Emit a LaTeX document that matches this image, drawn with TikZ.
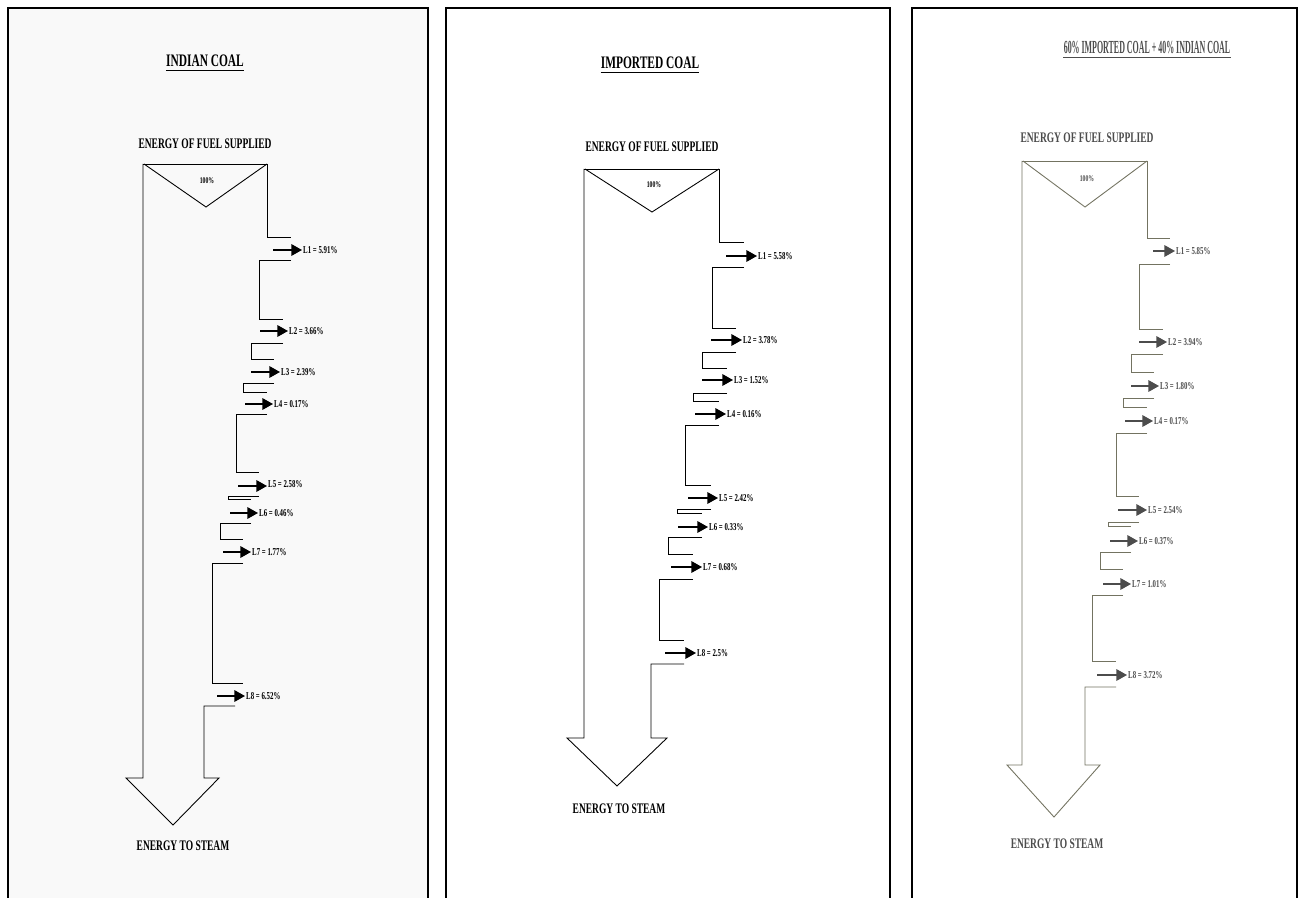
\documentclass[tikz,border=0pt]{standalone}
\usepackage{fontspec}
\setmainfont{Liberation Serif}
\newfontfamily\scanfont[FakeStretch=0.65]{Liberation Serif}
\newfontfamily\scannarrow[FakeStretch=0.43]{Liberation Serif}
\usetikzlibrary{calc, arrows.meta}
\definecolor{paper}{gray}{0.975}
\definecolor{fadeink}{gray}{0.30}
\definecolor{fadeline}{rgb}{0.45,0.45,0.38}

\begin{document}
\begin{tikzpicture}[x=0.02cm, y=-0.02cm,
    frame/.style={line width=1.4pt, line join=miter},
    outline/.style={line width=0.5pt, line join=miter},
    title/.style={font=\scanfont\bfseries\fontsize{10}{12}\selectfont, inner sep=0pt},
    caption/.style={font=\scanfont\bfseries\fontsize{8.3}{10}\selectfont, inner sep=0pt},
    pct/.style={font=\scanfont\bfseries\fontsize{5}{6}\selectfont, inner sep=0pt},
    loss/.style={font=\scanfont\bfseries\fontsize{6}{7}\selectfont, anchor=west, inner sep=0.5pt},
    lossarrow/.style={line width=0.9pt, -{Triangle[length=6pt, width=6.5pt]}}]

    \useasboundingbox (0, 0) rectangle (1304, 898);
    \fill[white] (0, 0) rectangle (1304, 898);
    \fill[paper] (8, 8) rectangle (428, 898);

    \draw[frame] (8, 898) -- (8, 8) -- (428, 8) -- (428, 898);
    \draw[frame] (446, 898) -- (446, 8) -- (890, 8) -- (890, 898);
    \draw[frame] (912, 898) -- (912, 8) -- (1297, 8) -- (1297, 898);

    % indian coal
    \node[title] (t1) at (205, 61) {INDIAN COAL};
    \draw[line width=0.8pt] ($(t1.south west) + (0, 3.5)$) -- ($(t1.south east) + (0, 3.5)$);
    \node[caption] (in1) at (205, 144) {ENERGY OF FUEL SUPPLIED};

    \draw[outline] (143, 164) -- (267, 164) -- (267, 237) -- (291, 237);
    \draw[outline] (144, 164) -- (206, 207) -- (267, 164);
    \node[pct] (pct1) at (207, 181) {100\%};
    \draw[outline] (291, 260) -- (259, 260) -- (259, 319) -- (283, 319);
    \draw[outline] (283, 343) -- (251, 343) -- (251, 359) -- (274, 359);
    \draw[outline] (274, 383) -- (243, 383) -- (243, 392) -- (267, 392);
    \draw[outline] (267, 414) -- (236, 414) -- (236, 472) -- (259, 472);
    \draw[outline] (259, 496) -- (228, 496) -- (228, 499) -- (251, 499);
    \draw[outline] (251, 523) -- (220, 523) -- (220, 539) -- (243, 539);
    \draw[outline] (243, 563) -- (212, 563) -- (212, 683) -- (243, 683);
    \draw[outline] (235, 706) -- (204, 706) -- (204, 778) -- (219, 778) -- (173, 825)
        -- (126, 778) -- (143, 778) -- (143, 164);
    \node[caption] (out1) at (183, 846) {ENERGY TO STEAM};

    \coordinate (a1s) at (273, 250);
    \node[loss] (a1) at (302, 250) {L1 = 5.91\%};
    \draw[lossarrow] (a1s) -- (a1.west);
    \coordinate (a2s) at (260, 331);
    \node[loss] (a2) at (288, 331) {L2 = 3.66\%};
    \draw[lossarrow] (a2s) -- (a2.west);
    \coordinate (a3s) at (251, 372);
    \node[loss] (a3) at (280, 372) {L3 = 2.39\%};
    \draw[lossarrow] (a3s) -- (a3.west);
    \coordinate (a4s) at (245, 404);
    \node[loss] (a4) at (273, 404) {L4 = 0.17\%};
    \draw[lossarrow] (a4s) -- (a4.west);
    \coordinate (a5s) at (238, 486);
    \node[loss] (a5) at (267, 484) {L5 = 2.58\%};
    \draw[lossarrow] (a5s) -- (a5.west |- a5s);
    \coordinate (a6s) at (230, 513);
    \node[loss] (a6) at (258, 513) {L6 = 0.46\%};
    \draw[lossarrow] (a6s) -- (a6.west);
    \coordinate (a7s) at (223, 552);
    \node[loss] (a7) at (251, 552) {L7 = 1.77\%};
    \draw[lossarrow] (a7s) -- (a7.west);
    \coordinate (a8s) at (217, 696);
    \node[loss] (a8) at (245, 696) {L8 = 6.52\%};
    \draw[lossarrow] (a8s) -- (a8.west);

    % imported coal
    \node[title] (t2) at (650, 63) {IMPORTED COAL};
    \draw[line width=0.8pt] ($(t2.south west) + (0, 3.5)$) -- ($(t2.south east) + (0, 3.5)$);
    \node[caption] (in2) at (652, 147) {ENERGY OF FUEL SUPPLIED};

    \draw[outline] (584, 169) -- (719, 169) -- (719, 242) -- (744, 242);
    \draw[outline] (585, 169) -- (652, 212) -- (719, 169);
    \node[pct] (pct2) at (654, 185) {100\%};
    \draw[outline] (744, 267) -- (712, 267) -- (712, 328) -- (736, 328);
    \draw[outline] (736, 352) -- (702, 352) -- (702, 368) -- (727, 368);
    \draw[outline] (727, 393) -- (693, 393) -- (693, 401) -- (719, 401);
    \draw[outline] (719, 425) -- (685, 425) -- (685, 485) -- (711, 485);
    \draw[outline] (711, 509) -- (677, 509) -- (677, 513) -- (702, 513);
    \draw[outline] (702, 537) -- (668, 537) -- (668, 554) -- (693, 554);
    \draw[outline] (693, 579) -- (659, 579) -- (659, 640) -- (684, 640);
    \draw[outline] (684, 664) -- (651, 664) -- (651, 738) -- (667, 738) -- (617, 786)
        -- (567, 738) -- (584, 738) -- (584, 169);
    \node[caption] (out2) at (619, 809) {ENERGY TO STEAM};

    \coordinate (b1s) at (726, 256);
    \node[loss] (b1) at (757, 256) {L1 = 5.58\%};
    \draw[lossarrow] (b1s) -- (b1.west);
    \coordinate (b2s) at (711, 340);
    \node[loss] (b2) at (742, 340) {L2 = 3.78\%};
    \draw[lossarrow] (b2s) -- (b2.west);
    \coordinate (b3s) at (702, 380);
    \node[loss] (b3) at (733, 380) {L3 = 1.52\%};
    \draw[lossarrow] (b3s) -- (b3.west);
    \coordinate (b4s) at (695, 414);
    \node[loss] (b4) at (726, 414) {L4 = 0.16\%};
    \draw[lossarrow] (b4s) -- (b4.west);
    \coordinate (b5s) at (688, 498);
    \node[loss] (b5) at (718, 498) {L5 = 2.42\%};
    \draw[lossarrow] (b5s) -- (b5.west);
    \coordinate (b6s) at (678, 527);
    \node[loss] (b6) at (708, 527) {L6 = 0.33\%};
    \draw[lossarrow] (b6s) -- (b6.west);
    \coordinate (b7s) at (671, 567);
    \node[loss] (b7) at (702, 567) {L7 = 0.68\%};
    \draw[lossarrow] (b7s) -- (b7.west);
    \coordinate (b8s) at (665, 653);
    \node[loss] (b8) at (696, 653) {L8 = 2.5\%};
    \draw[lossarrow] (b8s) -- (b8.west);

    % blend
    \begin{scope}[fadeline]
    \node[title, fadeink, font=\scannarrow\bfseries\fontsize{10.5}{12}\selectfont] (t3) at (1147, 47)
        {60\% IMPORTED COAL + 40\% INDIAN COAL};
    \draw[fadeink, line width=0.8pt] ($(t3.south west) + (0, 4)$) -- ($(t3.south east) + (0, 4)$);
    \node[caption, fadeink] (in3) at (1087, 138) {ENERGY OF FUEL SUPPLIED};

    \draw[outline] (1022, 161) -- (1147, 161) -- (1147, 238) -- (1170, 238);
    \draw[outline] (1023, 161) -- (1085, 207) -- (1147, 161);
    \node[pct, fadeink] (pct3) at (1087, 179) {100\%};
    \draw[outline] (1170, 264) -- (1139, 264) -- (1139, 329) -- (1163, 329);
    \draw[outline] (1163, 354) -- (1131, 354) -- (1131, 372) -- (1154, 372);
    \draw[outline] (1154, 398) -- (1123, 398) -- (1123, 407) -- (1147, 407);
    \draw[outline] (1147, 433) -- (1116, 433) -- (1116, 496) -- (1139, 496);
    \draw[outline] (1139, 522) -- (1108, 522) -- (1108, 526) -- (1131, 526);
    \draw[outline] (1131, 552) -- (1100, 552) -- (1100, 569) -- (1123, 569);
    \draw[outline] (1123, 595) -- (1092, 595) -- (1092, 661) -- (1116, 661);
    \draw[outline] (1116, 687) -- (1085, 687) -- (1085, 765) -- (1100, 765) -- (1054, 817)
        -- (1007, 765) -- (1022, 765) -- (1022, 161);
    \node[caption, fadeink] (out3) at (1057, 844) {ENERGY TO STEAM};

    \coordinate (c1s) at (1153, 251);
    \node[loss, fadeink] (c1) at (1175, 251) {L1 = 5.85\%};
    \draw[lossarrow, fadeink] (c1s) -- (c1.west);
    \coordinate (c2s) at (1139, 342);
    \node[loss, fadeink] (c2) at (1167, 342) {L2 = 3.94\%};
    \draw[lossarrow, fadeink] (c2s) -- (c2.west);
    \coordinate (c3s) at (1131, 386);
    \node[loss, fadeink] (c3) at (1159, 386) {L3 = 1.80\%};
    \draw[lossarrow, fadeink] (c3s) -- (c3.west);
    \coordinate (c4s) at (1125, 421);
    \node[loss, fadeink] (c4) at (1153, 421) {L4 = 0.17\%};
    \draw[lossarrow, fadeink] (c4s) -- (c4.west);
    \coordinate (c5s) at (1118, 510);
    \node[loss, fadeink] (c5) at (1147, 510) {L5 = 2.54\%};
    \draw[lossarrow, fadeink] (c5s) -- (c5.west);
    \coordinate (c6s) at (1110, 541);
    \node[loss, fadeink] (c6) at (1138, 541) {L6 = 0.37\%};
    \draw[lossarrow, fadeink] (c6s) -- (c6.west);
    \coordinate (c7s) at (1103, 584);
    \node[loss, fadeink] (c7) at (1131, 584) {L7 = 1.01\%};
    \draw[lossarrow, fadeink] (c7s) -- (c7.west);
    \coordinate (c8s) at (1097, 675);
    \node[loss, fadeink] (c8) at (1127, 675) {L8 = 3.72\%};
    \draw[lossarrow, fadeink] (c8s) -- (c8.west);
    \end{scope}
\end{tikzpicture}
\end{document}
